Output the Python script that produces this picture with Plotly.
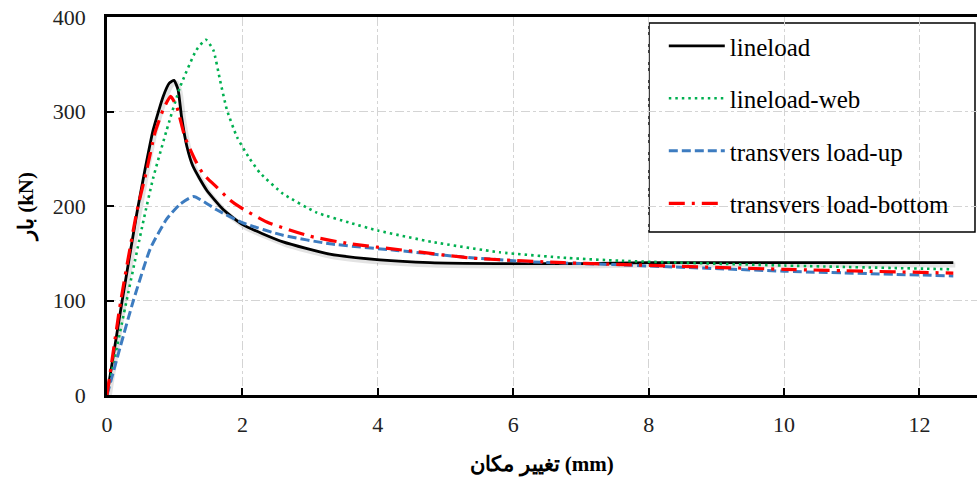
import plotly.graph_objects as go

# Load–displacement curves (displacement in mm, load in kN)
x_line = [0, 0.22, 0.44, 0.56, 0.68, 0.83, 0.92, 0.99, 1.05, 1.1, 1.18, 1.27, 1.47, 1.72,
          2.01, 2.6, 3.29, 4.03, 4.77, 5.76, 7, 8, 10, 12.5]
y_line = [0, 98, 192, 238, 280, 316, 330, 333, 323, 295, 263, 242, 217, 196,
          180, 162, 149, 143, 140, 139, 139, 140, 140, 140]

x_web = [0, 0.29, 0.54, 0.68, 0.88, 1.08, 1.32, 1.46, 1.57, 1.67, 1.77, 1.92, 2.09, 2.26,
         2.6, 3.1, 3.6, 4.0, 4.8, 5.8, 6.8, 7.6, 10, 12.5]
y_web = [0, 100, 185, 229, 280, 326, 365, 376, 365, 333, 302, 273, 252, 235,
         213, 193, 182, 174, 162, 151, 145, 142, 137, 133]

x_up = [0, 0.2, 0.39, 0.64, 0.88, 1.08, 1.28, 1.62, 2.01, 2.6, 3.29, 4.28, 5.26, 6.25,
        7.47, 10, 12.5]
y_up = [0, 52, 100, 155, 186, 202, 210, 196, 182, 169, 160, 153, 146, 141,
        138, 131, 126]

x_bot = [0, 0.2, 0.44, 0.58, 0.71, 0.83, 0.94, 1.03, 1.15, 1.3, 1.42, 1.62, 1.82, 1.96,
         2.36, 3.0, 3.59, 4.53, 5.36, 6.74, 7.63, 10, 12.5]
y_bot = [0, 98, 194, 236, 278, 302, 316, 305, 273, 249, 234, 220, 206, 199,
         183, 168, 160, 152, 145, 140, 138, 133, 129]

names = ["lineload", "lineload-web", "transvers load-up", "transvers load-bottom"]

x_ticks = [0, 2, 4, 6, 8, 10, 12]
y_ticks = [0, 100, 200, 300, 400]

serif = "Liberation Serif"
title_font = dict(family=serif, size=21, color="black")
tick_font = dict(family=serif, size=22, color="#222")

fig = go.Figure()

# soft drop shadow under the solid curve
fig.add_trace(go.Scatter(
    x=[v + 0.03 for v in x_line], y=[v - 2.5 for v in y_line], mode="lines",
    line=dict(color="rgba(0,0,0,0.11)", width=5, shape="spline", smoothing=0.5),
    showlegend=False, hoverinfo="skip"))

fig.add_trace(go.Scatter(
    x=x_line, y=y_line, mode="lines", name=names[0], legendgroup="a",
    line=dict(color="black", width=2.8, shape="spline", smoothing=0.5)))
fig.add_trace(go.Scatter(
    x=x_web, y=y_web, mode="lines", name=names[1], legendgroup="b",
    line=dict(color="#00b050", width=2.6, dash="2.5px,4px", shape="spline", smoothing=0.5)))
fig.add_trace(go.Scatter(
    x=x_up, y=y_up, mode="lines", name=names[2], legendgroup="c",
    line=dict(color="#3d7cc0", width=3, dash="9px,4px", shape="spline", smoothing=0.5)))
fig.add_trace(go.Scatter(
    x=x_bot, y=y_bot, mode="lines", name=names[3], legendgroup="d",
    line=dict(color="#ff0000", width=3.2, dash="16px,7px,3px,7px", shape="spline", smoothing=0.5)))

fig.update_layout(
    width=977, height=484,
    margin=dict(l=107, r=0, t=17, b=89),
    paper_bgcolor="white", plot_bgcolor="white",
    font=dict(family=serif, size=22, color="#222"),
    showlegend=True,
    legend=dict(
        x=0.64, y=0.984, xanchor="left", yanchor="top",
        bgcolor="rgba(0,0,0,0)", borderwidth=0,
        font=dict(family=serif, size=25, color="black"),
        itemwidth=56, tracegroupgap=17,
    ),
    # framed white panel behind the legend
    shapes=[dict(type="rect", xref="paper", yref="paper",
                 x0=0.623, x1=0.9977, y0=0.431, y1=0.984,
                 fillcolor="white", line=dict(color="black", width=1.5),
                 layer="between")],
    xaxis=dict(
        range=[0, 12.85], tickvals=x_ticks, ticktext=[str(v) for v in x_ticks],
        showgrid=True, gridcolor="#d4d4d4", griddash="dashdot", gridwidth=1,
        showline=True, linecolor="black", linewidth=2.5, mirror=True,
        ticks="inside", ticklen=7, tickwidth=1.5, tickcolor="black",
        zeroline=False, ticklabelstandoff=8,
        tickfont=tick_font,
        title=dict(text="<b>تغییر مکان (mm)</b>", font=title_font, standoff=21),
    ),
    yaxis=dict(
        range=[0, 400], tickvals=y_ticks, ticktext=[str(v) for v in y_ticks],
        showgrid=True, gridcolor="#d4d4d4", griddash="dashdot", gridwidth=1,
        showline=True, linecolor="black", linewidth=2.5,
        ticks="inside", ticklen=7, tickwidth=1.5, tickcolor="black",
        zeroline=False, ticklabelstandoff=14,
        tickfont=tick_font,
        title=dict(text="<b>بار (kN)</b>", font=title_font, standoff=14),
    ),
)

fig.write_html("out.html")
